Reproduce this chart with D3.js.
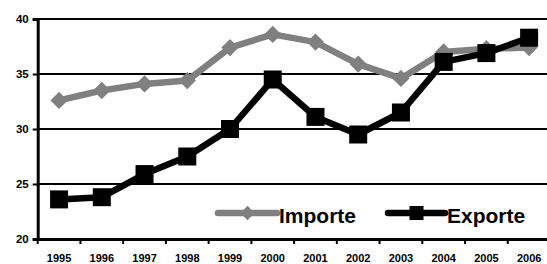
<!DOCTYPE html>
<html><head><meta charset="utf-8">
<script src="https://cdn.jsdelivr.net/npm/d3@7"></script>
<style>body{margin:0;background:#fff}svg{display:block}text{font-family:"Liberation Sans",Arial,sans-serif;font-weight:bold}</style>
</head><body><svg id="c" width="547" height="264"></svg>
<script>
const years = ["1995","1996","1997","1998","1999","2000","2001","2002","2003","2004","2005","2006"];
const importe = [32.6,33.5,34.1,34.4,37.4,38.6,37.9,35.9,34.6,37.0,37.3,37.4];
const exporte = [23.6,23.8,25.9,27.5,30.0,34.5,31.1,29.5,31.5,36.1,36.9,38.3];
const yTicks = [20,25,30,35,40];
const seriesNames = ["Importe","Exporte"];

const svg = d3.select("#c");
const L = 37.7, R = 550.5, T = 19, B = 239;
const x = d3.scaleBand().domain(years).range([L, R]);
const y = d3.scaleLinear().domain([20, 40]).range([B, T]);

// gridlines
svg.append("g").selectAll("line").data(yTicks.filter(d => d > 20)).join("line")
  .attr("x1", L).attr("x2", R).attr("y1", d => y(d)).attr("y2", d => y(d))
  .attr("stroke", "#000").attr("stroke-width", 2);

// y axis
const ya = svg.append("g").attr("transform", `translate(${L},0)`)
  .call(d3.axisLeft(y).tickValues(yTicks).tickSize(5).tickPadding(4));
ya.select(".domain").attr("stroke-width", 3);
ya.selectAll(".tick line").attr("stroke-width", 2);
ya.selectAll("text").attr("font-size", 11.5).attr("fill", "#000");

// x axis
const xa = svg.append("g").attr("transform", `translate(0,${B})`)
  .call(d3.axisBottom(x).tickSizeOuter(0).tickSizeInner(0).tickPadding(15));
xa.select(".domain").attr("stroke-width", 3);
xa.selectAll("text").attr("font-size", 11).attr("fill", "#000");
// tick marks at band boundaries
svg.append("g").selectAll("line").data(years.concat(["end"])).join("line")
  .attr("x1", (d, i) => L + i * x.step()).attr("x2", (d, i) => L + i * x.step())
  .attr("y1", B).attr("y2", B + 5).attr("stroke", "#000").attr("stroke-width", 2);

const cx = d => x(d) + x.bandwidth() / 2;
const line = d3.line().x((d, i) => cx(years[i])).y(d => y(d));

// Importe
svg.append("path").datum(importe).attr("d", line).attr("fill", "none")
  .attr("stroke", "#808080").attr("stroke-width", 6.5).attr("stroke-linejoin", "round");
const dia = d3.symbol().type(d3.symbolDiamond2).size(190);
svg.append("g").selectAll("path").data(importe).join("path")
  .attr("d", dia).attr("transform", (d, i) => `translate(${cx(years[i])},${y(d)})`)
  .attr("fill", "#808080");

// Exporte
svg.append("path").datum(exporte).attr("d", line).attr("fill", "none")
  .attr("stroke", "#000").attr("stroke-width", 6.5).attr("stroke-linejoin", "round");
svg.append("g").selectAll("rect").data(exporte).join("rect")
  .attr("x", (d, i) => cx(years[i]) - 9).attr("y", d => y(d) - 9)
  .attr("width", 18).attr("height", 18).attr("fill", "#000");

// legend
const leg = [{name: seriesNames[0], c: "#808080", x1: 218, x2: 277, tx: 279},
             {name: seriesNames[1], c: "#000", x1: 388, x2: 445, tx: 447}];
const ly = 213;
leg.forEach(l => {
  svg.append("line").attr("x1", l.x1).attr("x2", l.x2).attr("y1", ly).attr("y2", ly)
    .attr("stroke", l.c).attr("stroke-width", 6.5).attr("stroke-linecap", "round");
  const mx = (l.x1 + l.x2) / 2;
  if (l.c === "#000") {
    svg.append("rect").attr("x", mx - 7).attr("y", ly - 7).attr("width", 14).attr("height", 14).attr("fill", "#000");
  } else {
    svg.append("path").attr("d", d3.symbol().type(d3.symbolDiamond2).size(130))
      .attr("transform", `translate(${mx},${ly})`).attr("fill", "#808080");
  }
  svg.append("text").attr("x", l.tx).attr("y", ly + 10).attr("font-size", 21).attr("fill", "#000").text(l.name);
});
</script></body></html>
